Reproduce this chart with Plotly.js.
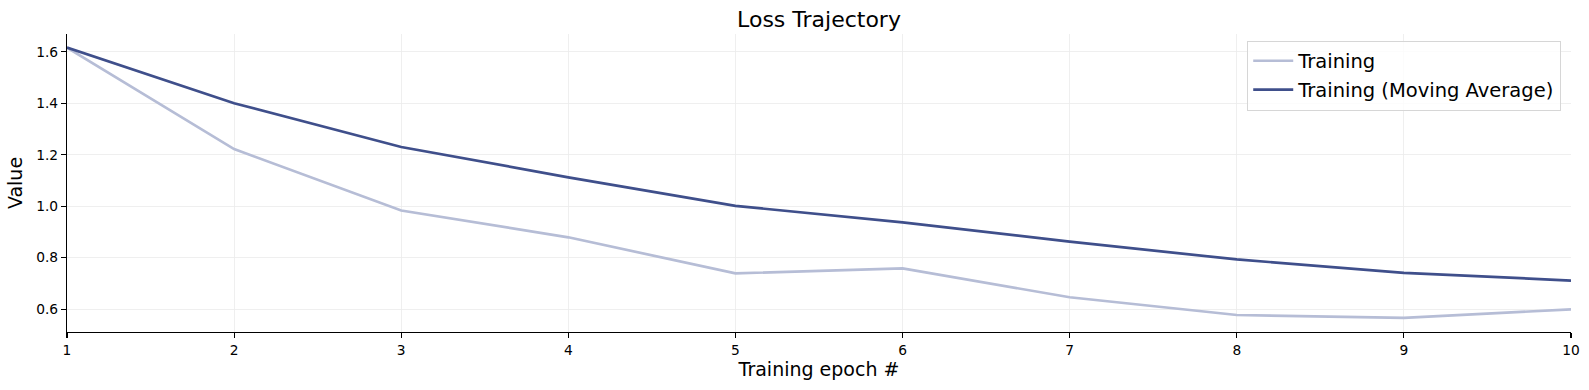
<!DOCTYPE html>
<html>
<head>
<meta charset="utf-8">
<script src="https://cdn.plot.ly/plotly-3.0.1.min.js"></script>
<style>
html,body{margin:0;padding:0;background:#fff;}
#chart{width:1589px;height:390px;}
</style>
</head>
<body>
<div id="chart"></div>
<script>
const epochs = [1, 2, 3, 4, 5, 6, 7, 8, 9, 10];
const trainingLoss = [1.616, 1.222, 0.983, 0.879, 0.739, 0.758, 0.646, 0.577, 0.566, 0.599];
const movingAverageLoss = [1.616, 1.400, 1.230, 1.112, 1.001, 0.937, 0.862, 0.793, 0.741, 0.711];
const yTicks = [0.6, 0.8, 1.0, 1.2, 1.4, 1.6];
const yTickLabels = ['0.6', '0.8', '1.0', '1.2', '1.4', '1.6'];

const FONT = 'DejaVu Sans, sans-serif';

const traces = [
  {
    x: epochs, y: trainingLoss, type: 'scatter', mode: 'lines',
    name: 'Training', legendgroup: 'a',
    line: {color: '#b6bdd6', width: 2.7}
  },
  {
    x: epochs, y: movingAverageLoss, type: 'scatter', mode: 'lines',
    name: 'Training (Moving Average)', legendgroup: 'b',
    line: {color: '#3f4f8b', width: 2.7}
  }
];

const layout = {
  width: 1589, height: 390,
  margin: {l: 67, r: 18, t: 34, b: 58, pad: 0},
  paper_bgcolor: '#ffffff', plot_bgcolor: '#ffffff',
  font: {family: FONT, color: '#000000', size: 13.8},
  title: {text: 'Loss Trajectory', font: {family: FONT, size: 22, color: '#000'},
          x: 0.5, xref: 'paper', y: 0.95, yref: 'container', yanchor: 'middle'},
  showlegend: true,
  legend: {
    x: 0.9935, xanchor: 'right', y: 0.978, yanchor: 'top',
    bgcolor: 'rgba(255,255,255,0.8)', bordercolor: '#d6d6d6', borderwidth: 1,
    font: {family: FONT, size: 19.5, color: '#000'},
    itemwidth: 40, tracegroupgap: 0.5
  },
  xaxis: {
    range: [1, 10], tickvals: epochs, ticktext: epochs.map(String),
    showgrid: true, gridcolor: '#ebebeb', gridwidth: 0.8,
    zeroline: false, showline: true, linecolor: '#000', linewidth: 1.1,
    ticks: 'outside', ticklen: 5, tickwidth: 1.1, tickcolor: '#000',
    tickfont: {family: FONT, size: 13.8, color: '#000'},
    title: {text: 'Training epoch #', font: {family: FONT, size: 19, color: '#000'}, standoff: 6},
    automargin: false, mirror: false
  },
  yaxis: {
    range: [0.511, 1.669], tickvals: yTicks, ticktext: yTickLabels,
    showgrid: true, gridcolor: '#ebebeb', gridwidth: 0.8,
    zeroline: false, showline: true, linecolor: '#000', linewidth: 1.1,
    ticks: 'outside', ticklen: 5, tickwidth: 1.1, tickcolor: '#000',
    tickfont: {family: FONT, size: 13.8, color: '#000'},
    title: {text: 'Value', font: {family: FONT, size: 19, color: '#000'}, standoff: 8},
    automargin: false, mirror: false
  }
};

Plotly.newPlot('chart', traces, layout, {displayModeBar: false, staticPlot: true});
</script>
</body>
</html>
